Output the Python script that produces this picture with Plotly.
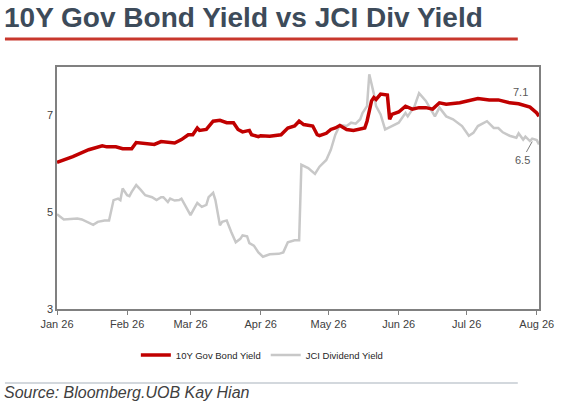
import plotly.graph_objects as go

# 10Y government bond yield (%)
bond_dates = [
    "2026-01-01", "2026-01-08", "2026-01-15", "2026-01-21", "2026-01-23", "2026-01-27",
    "2026-01-30", "2026-02-03", "2026-02-05", "2026-02-09", "2026-02-13", "2026-02-16",
    "2026-02-22", "2026-02-25", "2026-02-28", "2026-03-02", "2026-03-04", "2026-03-05",
    "2026-03-08", "2026-03-11", "2026-03-14", "2026-03-17", "2026-03-20", "2026-03-22",
    "2026-03-24", "2026-03-27", "2026-03-28", "2026-03-31", "2026-04-01", "2026-04-05",
    "2026-04-10", "2026-04-13", "2026-04-16", "2026-04-18", "2026-04-20", "2026-04-24",
    "2026-04-26", "2026-04-27", "2026-04-30", "2026-05-02", "2026-05-04", "2026-05-06",
    "2026-05-09", "2026-05-12", "2026-05-15", "2026-05-17", "2026-05-18", "2026-05-20",
    "2026-05-21", "2026-05-22", "2026-05-24", "2026-05-27", "2026-05-28", "2026-05-29",
    "2026-06-01", "2026-06-04", "2026-06-07", "2026-06-10", "2026-06-13", "2026-06-16",
    "2026-06-19", "2026-06-22", "2026-06-28", "2026-07-02", "2026-07-06", "2026-07-11",
    "2026-07-15", "2026-07-20", "2026-07-24", "2026-07-29", "2026-08-01", "2026-08-02",
]
bond_yield = [
    6.03, 6.15, 6.29, 6.37, 6.35, 6.35,
    6.31, 6.31, 6.44, 6.42, 6.40, 6.46,
    6.43, 6.50, 6.60, 6.60, 6.74, 6.69,
    6.71, 6.88, 6.90, 6.85, 6.85, 6.71,
    6.66, 6.69, 6.60, 6.56, 6.58, 6.57,
    6.60, 6.74, 6.78, 6.88, 6.81, 6.78,
    6.60, 6.58, 6.63, 6.71, 6.74, 6.79,
    6.71, 6.69, 6.71, 6.74, 6.88, 7.30,
    7.37, 7.33, 7.44, 7.42, 6.92, 7.02,
    7.07, 7.19, 7.13, 7.16, 7.16, 7.13,
    7.26, 7.23, 7.26, 7.30, 7.35, 7.32,
    7.32, 7.26, 7.24, 7.17, 7.05, 6.98,
]

# JCI dividend yield (%)
div_dates = [
    "2026-01-01", "2026-01-04", "2026-01-10", "2026-01-12", "2026-01-17", "2026-01-19",
    "2026-01-22", "2026-01-24", "2026-01-26", "2026-01-28", "2026-01-29", "2026-01-30",
    "2026-02-01", "2026-02-02", "2026-02-03", "2026-02-05", "2026-02-07", "2026-02-09",
    "2026-02-12", "2026-02-14", "2026-02-16", "2026-02-17", "2026-02-19", "2026-02-20",
    "2026-02-22", "2026-02-24", "2026-02-25", "2026-02-27", "2026-03-01", "2026-03-03",
    "2026-03-04", "2026-03-06", "2026-03-08", "2026-03-09", "2026-03-11", "2026-03-12",
    "2026-03-14", "2026-03-15", "2026-03-17", "2026-03-19", "2026-03-21", "2026-03-23",
    "2026-03-24", "2026-03-26", "2026-03-27", "2026-03-29", "2026-03-31", "2026-04-02",
    "2026-04-05", "2026-04-09", "2026-04-11", "2026-04-13", "2026-04-16", "2026-04-18",
    "2026-04-19", "2026-04-22", "2026-04-25", "2026-04-27", "2026-04-30", "2026-05-02",
    "2026-05-04", "2026-05-06", "2026-05-09", "2026-05-11", "2026-05-13", "2026-05-15",
    "2026-05-16", "2026-05-18", "2026-05-19", "2026-05-21", "2026-05-22", "2026-05-24",
    "2026-05-26", "2026-05-29", "2026-06-01", "2026-06-04", "2026-06-05", "2026-06-08",
    "2026-06-10", "2026-06-13", "2026-06-15", "2026-06-17", "2026-06-19", "2026-06-22",
    "2026-06-25", "2026-06-29", "2026-07-02", "2026-07-04", "2026-07-06", "2026-07-10",
    "2026-07-13", "2026-07-15", "2026-07-17", "2026-07-20", "2026-07-23", "2026-07-24",
    "2026-07-26", "2026-07-27", "2026-07-29", "2026-07-30", "2026-08-01", "2026-08-02",
]
div_yield = [
    4.96, 4.85, 4.87, 4.85, 4.74, 4.80,
    4.83, 4.83, 5.25, 5.28, 5.25, 5.49,
    5.35, 5.33, 5.42, 5.56, 5.46, 5.35,
    5.31, 5.25, 5.31, 5.31, 5.21, 5.28,
    5.24, 5.25, 5.28, 5.11, 4.94, 5.11,
    5.19, 5.11, 5.15, 5.31, 5.40, 5.25,
    4.73, 4.80, 4.83, 4.59, 4.38, 4.45,
    4.52, 4.50, 4.36, 4.31, 4.17, 4.08,
    4.13, 4.14, 4.17, 4.38, 4.42, 4.42,
    5.98, 5.91, 5.79, 5.94, 6.08, 6.29,
    6.60, 6.80, 6.78, 6.85, 6.83, 6.92,
    7.05, 7.19, 7.85, 7.45, 7.19, 7.02,
    6.71, 6.78, 6.85, 7.05, 6.98, 7.19,
    7.46, 7.30, 7.13, 6.98, 7.16, 6.98,
    6.92, 6.78, 6.58, 6.64, 6.78, 6.88,
    6.74, 6.74, 6.65, 6.58, 6.54, 6.63,
    6.50, 6.56, 6.47, 6.52, 6.49, 6.40,
]

tick_dates = ["2026-01-01", "2026-02-01", "2026-03-01", "2026-04-01",
              "2026-05-01", "2026-06-01", "2026-07-01", "2026-08-01"]
y_ticks = [3, 5, 7]

fig = go.Figure()

fig.add_trace(go.Scatter(
    x=div_dates, y=div_yield, mode="lines", name="JCI Dividend Yield",
    line=dict(color="#c8c8c8", width=2.5), legendrank=2,
))
fig.add_trace(go.Scatter(
    x=bond_dates, y=bond_yield, mode="lines", name="10Y Gov Bond Yield",
    line=dict(color="#c00000", width=3.5), legendrank=1,
))

# end labels
fig.add_annotation(x="2026-07-25", y=7.48, text="7.1", showarrow=False,
                   font=dict(size=11, color="#595959"))
fig.add_annotation(x="2026-07-30", y=6.46, text="6.5", showarrow=True,
                   arrowhead=0, arrowwidth=1, arrowcolor="#7f7f7f",
                   ax=-10, ay=18, font=dict(size=11, color="#595959"))

# title underline and source rule
fig.add_shape(type="line", xref="paper", yref="paper", x0=-0.108, x1=0.956,
              y0=1.116, y1=1.116, line=dict(color="#c8372d", width=3))
fig.add_shape(type="line", xref="paper", yref="paper", x0=-0.108, x1=0.956,
              y0=-0.306, y1=-0.306, line=dict(color="#d3d8dd", width=2))
fig.add_annotation(xref="paper", yref="paper", x=-0.114, y=-0.343,
                   xanchor="left", yanchor="middle", showarrow=False,
                   text="<i>Source: Bloomberg.UOB Kay Hian</i>",
                   font=dict(family="Liberation Sans, Arial", size=16, color="#404040"))

fig.update_layout(
    width=588, height=412,
    margin=dict(l=57, r=49, t=67, b=103),
    paper_bgcolor="white", plot_bgcolor="white",
    font=dict(family="Liberation Sans, Arial", size=11, color="#404040"),
    title=dict(text="<b>10Y Gov Bond Yield vs JCI Div Yield</b>",
               xref="container", yref="container", x=4 / 588, y=1 - 17 / 412,
               xanchor="left", yanchor="middle",
               font=dict(family="Liberation Sans, Arial", size=28, color="#3d4b5a")),
    showlegend=True,
    legend=dict(orientation="h", x=0.425, y=-0.19, xanchor="center", yanchor="middle",
                font=dict(size=9.5, color="#262626"), itemwidth=30),
    xaxis=dict(
        type="date", range=["2026-01-01", "2026-08-02"],
        tickvals=tick_dates, tickformat="%b %y",
        showgrid=False, showline=True, linecolor="#808080", linewidth=1.5,
        mirror=True, ticks="outside", ticklen=4, tickcolor="#808080",
    ),
    yaxis=dict(
        range=[3, 8], tickvals=y_ticks, showgrid=False, zeroline=False,
        showline=True, linecolor="#808080", linewidth=1.5, mirror=True,
    ),
)

# the page body has a default margin; remove it so the figure sits at 0,0
fig.write_html("out.html", config={"displayModeBar": False},
               post_script="document.body.style.margin='0';")
